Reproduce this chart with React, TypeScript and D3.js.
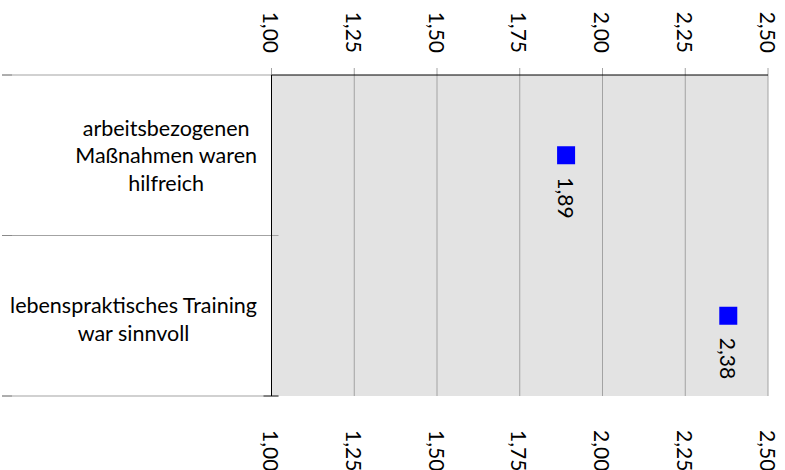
import React, { useEffect, useRef } from "react";
import * as d3 from "d3";

// categories (each label split into its wrapped lines)
const categories = ["arbeitsbezogenen", "lebenspraktisches"];
const categoryLines = [
  ["arbeitsbezogenen", "Maßnahmen waren", "hilfreich"],
  ["lebenspraktisches Training", "war sinnvoll"],
];
const values = [1.89, 2.38];
const valueLabels = ["1,89", "2,38"];
const ticks = [1.0, 1.25, 1.5, 1.75, 2.0, 2.25, 2.5];

const width = 785;
const height = 470;
const margin = { top: 75, right: 17, bottom: 74, left: 271.5 };
const font = "Lato, 'Open Sans', sans-serif";

const App = () => {
  const labelsRef = useRef<SVGGElement>(null);

  const x = d3
    .scaleLinear()
    .domain([1, 2.5])
    .range([margin.left, width - margin.right]);
  const y = d3
    .scaleBand()
    .domain(categories)
    .range([margin.top, height - margin.bottom]);

  const fmt = (d: number) => d3.format(".2f")(d).replace(".", ",");

  // right-align each wrapped label block, lines centered inside it
  useEffect(() => {
    const g = d3.select(labelsRef.current);
    g.selectAll<SVGGElement, unknown>("g.cat").each(function () {
      const w = (this as SVGGElement).getBBox().width;
      const yy = +(this.getAttribute("data-y") || 0);
      d3.select(this).attr("transform", `translate(${257 - w / 2}, ${yy})`);
    });
  }, []);

  const lineH = 27.5;

  return (
    <svg
      width={width}
      height={height}
      style={{ position: "absolute", left: 0, top: 0 }}
    >
      {/* plot background */}
      <rect
        x={x(1)}
        y={margin.top}
        width={x(2.5) - x(1)}
        height={y.range()[1] - margin.top}
        fill="#e3e3e3"
      />

      {/* gridlines */}
      {ticks.slice(1).map((t) => (
        <line
          key={`g${t}`}
          x1={x(t)}
          x2={x(t)}
          y1={margin.top - 7}
          y2={y.range()[1]}
          stroke="#a3a3a3"
          strokeWidth={1}
        />
      ))}
      <line
        x1={x(1)}
        x2={x(1)}
        y1={margin.top - 7}
        y2={margin.top}
        stroke="#a3a3a3"
      />

      {/* category separators */}
      {[...categories.map((c) => y(c) as number), y.range()[1]].map((v, i) => (
        <g key={`s${i}`}>
          <line
            x1={2}
            x2={i === 0 ? x(1) : x(1) + 7}
            y1={v}
            y2={v}
            stroke="#a3a3a3"
          />
          <line x1={2} x2={12} y1={v} y2={v} stroke="#8a8a8a" />
        </g>
      ))}
      <line
        x1={x(1) - 8}
        x2={x(1) + 7}
        y1={y.range()[1]}
        y2={y.range()[1]}
        stroke="#333"
      />

      {/* axes lines */}
      <line
        x1={x(1)}
        x2={x(2.5)}
        y1={margin.top}
        y2={margin.top}
        stroke="#000"
      />
      <line
        x1={x(1)}
        x2={x(1)}
        y1={margin.top}
        y2={y.range()[1]}
        stroke="#000"
      />

      {/* tick labels top and bottom */}
      {ticks.map((t) => (
        <g key={`t${t}`}>
          <text
            transform={`translate(${x(t)}, 53) rotate(90)`}
            textAnchor="end"
            dominantBaseline="central"
            fontFamily={font}
            fontSize={21}
            fill="#000"
          >
            {fmt(t)}
          </text>
          <text
            transform={`translate(${x(t)}, 430) rotate(90)`}
            textAnchor="start"
            dominantBaseline="central"
            fontFamily={font}
            fontSize={21}
            fill="#000"
          >
            {fmt(t)}
          </text>
        </g>
      ))}

      {/* category labels */}
      <g ref={labelsRef}>
        {categories.map((c, i) => {
          const cy = (y(c) as number) + y.bandwidth() / 2;
          const lines = categoryLines[i];
          const y0 = cy - ((lines.length - 1) * lineH) / 2 + (i === 1 ? 3 : 0);
          return (
            <g
              key={c}
              className="cat"
              data-y={y0}
              transform={`translate(164, ${y0})`}
            >
              {lines.map((l, j) => (
                <text
                  key={j}
                  x={0}
                  y={j * lineH}
                  textAnchor="middle"
                  dominantBaseline="central"
                  fontFamily={font}
                  fontSize={21.5}
                  fill="#000"
                >
                  {l}
                </text>
              ))}
            </g>
          );
        })}
      </g>

      {/* markers and value labels */}
      {categories.map((c, i) => {
        const cx = x(values[i]);
        const cy = (y(c) as number) + y.bandwidth() / 2;
        return (
          <g key={`m${c}`}>
            <rect x={cx - 9} y={cy - 9} width={18} height={18} fill="#0000ff" />
            <text
              transform={`translate(${cx}, ${cy + 22}) rotate(90)`}
              textAnchor="start"
              dominantBaseline="central"
              fontFamily={font}
              fontSize={21}
              fill="#000"
            >
              {valueLabels[i]}
            </text>
          </g>
        );
      })}
    </svg>
  );
};

export default App;
